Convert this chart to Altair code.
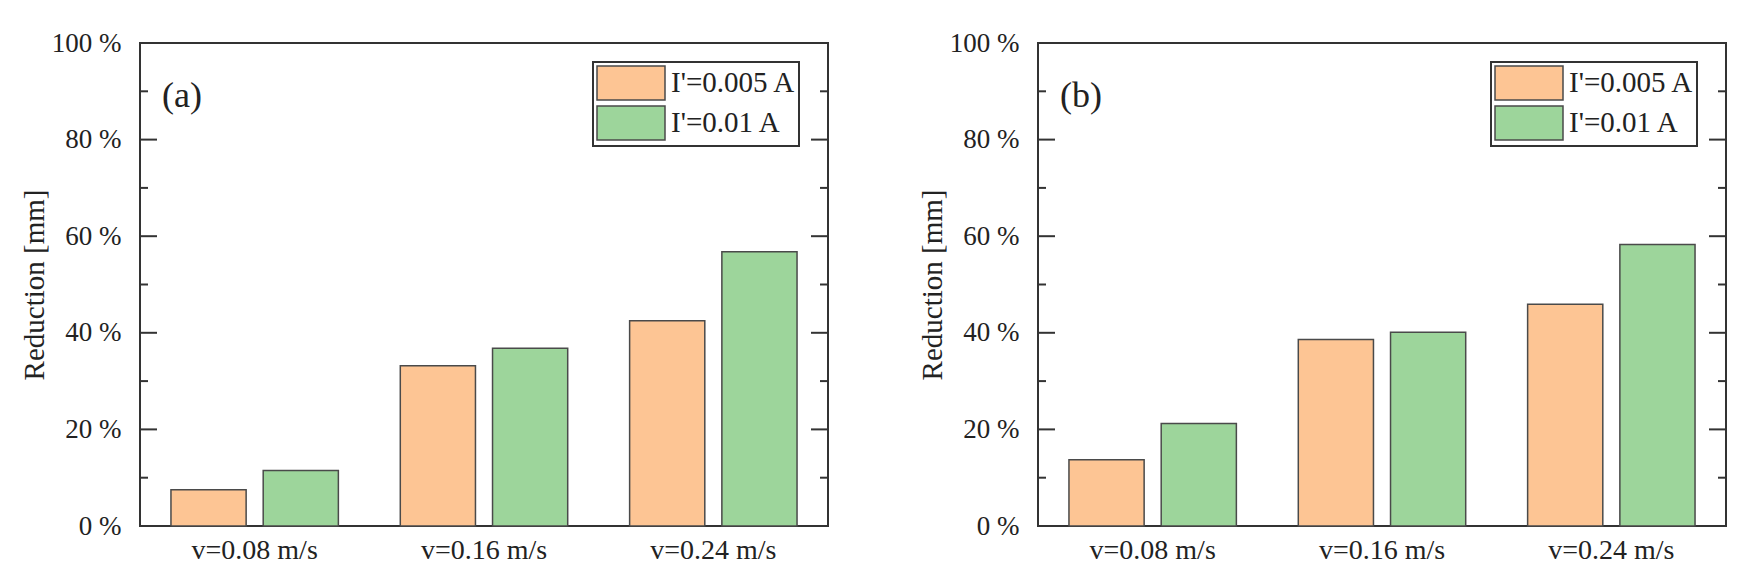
import altair as alt
import pandas as pd

speeds = ["v=0.08 m/s", "v=0.16 m/s", "v=0.24 m/s"]
series = ["I'=0.005 A", "I'=0.01 A"]
colors = ["#FDC594", "#9DD59B"]

vals_a_005 = [7.5, 33.2, 42.5]
vals_a_001 = [11.5, 36.8, 56.8]
vals_b_005 = [13.7, 38.6, 45.9]
vals_b_001 = [21.2, 40.1, 58.3]

major_ticks = [20, 40, 60, 80]
minor_ticks = [10, 30, 50, 70, 90]
y_ticks = [0, 20, 40, 60, 80, 100]

W, H = 688, 483
FONT = "Liberation Serif"


def panel(v1, v2, tag):
    rows = []
    for s, a, b in zip(speeds, v1, v2):
        rows.append({"speed": s, "current": series[0], "value": a})
        rows.append({"speed": s, "current": series[1], "value": b})
    df = pd.DataFrame(rows)

    yscale = alt.Scale(domain=[0, 100], nice=False)

    bars = alt.Chart(df).mark_bar(stroke="#4a4a4a", strokeWidth=1.5).encode(
        x=alt.X("speed:N", sort=speeds,
                scale=alt.Scale(paddingInner=0.27, paddingOuter=0.135),
                axis=alt.Axis(title=None, labelAngle=0, ticks=False, domain=False,
                              labelFont=FONT, labelFontSize=28, labelColor="#222",
                              labelPadding=10)),
        xOffset=alt.XOffset("current:N", sort=series,
                            scale=alt.Scale(paddingInner=0.185, paddingOuter=0)),
        y=alt.Y("value:Q", scale=yscale,
                axis=alt.Axis(title="Reduction [mm]", values=y_ticks, ticks=False,
                              domain=False, grid=False,
                              labelExpr="datum.value + ' %'",
                              labelFont=FONT, labelFontSize=27, labelColor="#222",
                              labelPadding=19, titleFont=FONT, titleFontSize=29,
                              titleFontWeight="normal", titleColor="#222",
                              titlePadding=2)),
        color=alt.Color("current:N", sort=series,
                        scale=alt.Scale(domain=series, range=colors),
                        legend=alt.Legend(title=None, orient="none", legendX=453, legendY=19,
                                          symbolType="M-2,-1L2,-1L2,1L-2,1Z",
                                          symbolSize=1156, symbolStrokeColor="#4a4a4a",
                                          symbolStrokeWidth=1.5, symbolOpacity=1,
                                          symbolOffset=17,
                                          labelFont=FONT, labelFontSize=29, labelColor="#222",
                                          labelOffset=22, padding=3, rowPadding=0,
                                          strokeColor="#333",
                                          fillColor="white", labelLimit=300)),
    )

    major_df = pd.DataFrame({"value": major_ticks})
    minor_df = pd.DataFrame({"value": minor_ticks})
    tick_layers = []
    for d, ln in ((major_df, 17), (minor_df, 8)):
        tick_layers.append(alt.Chart(d).mark_rule(color="#333", strokeWidth=2).encode(
            y=alt.Y("value:Q", scale=yscale), x=alt.value(0), x2=alt.value(ln)))
        tick_layers.append(alt.Chart(d).mark_rule(color="#333", strokeWidth=2).encode(
            y=alt.Y("value:Q", scale=yscale), x=alt.value(W), x2=alt.value(W - ln)))

    label = alt.Chart(pd.DataFrame({"t": [tag]})).mark_text(
        font=FONT, fontSize=36, align="left", baseline="middle", color="#222"
    ).encode(text="t:N", x=alt.value(22), y=alt.value(53))

    return alt.layer(bars, *tick_layers, label).properties(width=W, height=H)


pa = panel(vals_a_005, vals_a_001, "(a)")
pb = panel(vals_b_005, vals_b_001, "(b)")

chart = alt.hconcat(pa, pb, spacing=87).resolve_scale(color="independent").properties(
    padding={"left": 11, "top": 20, "right": 5, "bottom": 5},
    background="white",
).configure_view(stroke="#333", strokeWidth=2).configure_legend(
    strokeWidth=2
)

chart.save("out.html", embed_options={"renderer": "svg", "actions": False})
